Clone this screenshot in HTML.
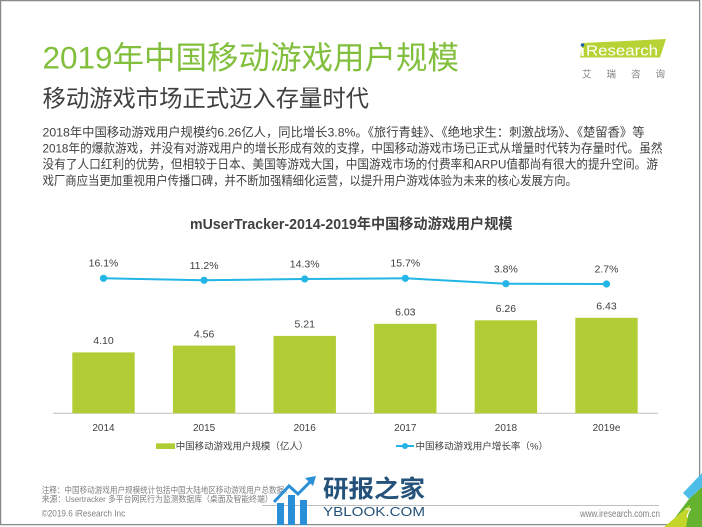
<!DOCTYPE html>
<html><head><meta charset="utf-8">
<style>
html,body{margin:0;padding:0;background:#fff;}
svg{display:block;}
</style></head>
<body>
<svg width="702" height="527" viewBox="0 0 702 527" xmlns="http://www.w3.org/2000/svg" font-family="'Liberation Sans','Noto Sans CJK SC',sans-serif">
<rect x="0" y="0" width="702" height="527" fill="#fff"/>
<rect x="0.6" y="0.6" width="699" height="524" fill="none" stroke="#8a8a8a" stroke-width="1.3"/>

<!-- Header -->
<text x="42.5" y="68.5" font-size="31.5" fill="#82bf3d" textLength="416.5" lengthAdjust="spacingAndGlyphs">2019年中国移动游戏用户规模</text>
<text x="42.5" y="106.5" font-size="23.4" fill="#404040" textLength="326.5" lengthAdjust="spacingAndGlyphs">移动游戏市场正式迈入存量时代</text>

<g font-size="12.3" fill="#404040">
<text x="42.5" y="136.4" textLength="602" lengthAdjust="spacingAndGlyphs">2018年中国移动游戏用户规模约6.26亿人，同比增长3.8%。《旅行青蛙》、《绝地求生：刺激战场》、《楚留香》等</text>
<text x="42.5" y="152.5" textLength="620" lengthAdjust="spacingAndGlyphs">2018年的爆款游戏，并没有对游戏用户的增长形成有效的支撑，中国移动游戏市场已正式从增量时代转为存量时代。虽然</text>
<text x="42.5" y="168.7" textLength="615.5" lengthAdjust="spacingAndGlyphs">没有了人口红利的优势，但相较于日本、美国等游戏大国，中国游戏市场的付费率和ARPU值都尚有很大的提升空间。游</text>
<text x="42.5" y="184.8" textLength="534.5" lengthAdjust="spacingAndGlyphs">戏厂商应当更加重视用户传播口碑，并不断加强精细化运营，以提升用户游戏体验为未来的核心发展方向。</text>
</g>

<!-- Logo -->
<polygon points="583,43 666,39 660,57.5 580,57.5" fill="#b5d334"/>
<circle cx="582.5" cy="45" r="1.8" fill="#1f5fa8"/>
<rect x="581.5" y="48" width="2.2" height="8" fill="#fff"/>
<text x="586" y="55.5" font-size="15" fill="#fff" textLength="72" lengthAdjust="spacingAndGlyphs">Research</text>
<text x="582" y="77.6" font-size="9.5" fill="#7f7f7f" textLength="83" lengthAdjust="spacing">艾瑞咨询</text>

<!-- Chart title -->
<text x="190" y="228.8" font-size="14.5" font-weight="bold" fill="#404040" textLength="322.5" lengthAdjust="spacingAndGlyphs">mUserTracker-2014-2019年中国移动游戏用户规模</text>

<!-- Axis -->
<line x1="53.3" y1="413.3" x2="658" y2="413.3" stroke="#bfbfbf" stroke-width="1"/>

<!-- Bars -->
<g fill="#b0cd35">
<rect x="72.3" y="352.4" width="62.4" height="60.9"/>
<rect x="172.9" y="345.6" width="62.4" height="67.7"/>
<rect x="273.5" y="335.9" width="62.4" height="77.4"/>
<rect x="374.1" y="323.8" width="62.4" height="89.5"/>
<rect x="474.7" y="320.3" width="62.4" height="93.0"/>
<rect x="575.3" y="317.8" width="62.4" height="95.5"/>
</g>
<g font-size="10.5" fill="#404040" text-anchor="middle">
<text x="103.5" y="344.1">4.10</text>
<text x="204.1" y="337.3">4.56</text>
<text x="304.7" y="327.6">5.21</text>
<text x="405.3" y="315.5">6.03</text>
<text x="505.9" y="312.0">6.26</text>
<text x="606.5" y="309.5">6.43</text>
</g>

<!-- Line -->
<polyline points="103.5,278.3 204.1,280.3 304.7,279 405.3,278.3 505.9,283.7 606.5,284" fill="none" stroke="#22b5e6" stroke-width="2"/>
<g fill="#22b5e6">
<circle cx="103.5" cy="278.3" r="3.6"/>
<circle cx="204.1" cy="280.3" r="3.6"/>
<circle cx="304.7" cy="279" r="3.6"/>
<circle cx="405.3" cy="278.3" r="3.6"/>
<circle cx="505.9" cy="283.7" r="3.6"/>
<circle cx="606.5" cy="284" r="3.6"/>
</g>
<g font-size="10.5" fill="#404040" text-anchor="middle">
<text x="103.5" y="266.4">16.1%</text>
<text x="204.1" y="269">11.2%</text>
<text x="304.7" y="267.7">14.3%</text>
<text x="405.3" y="266.7">15.7%</text>
<text x="505.9" y="272.4">3.8%</text>
<text x="606.5" y="272.4">2.7%</text>
</g>

<!-- Year labels -->
<g font-size="10" fill="#404040" text-anchor="middle">
<text x="103.5" y="430.9">2014</text>
<text x="204.1" y="430.9">2015</text>
<text x="304.7" y="430.9">2016</text>
<text x="405.3" y="430.9">2017</text>
<text x="505.9" y="430.9">2018</text>
<text x="606.5" y="430.9">2019e</text>
</g>

<!-- Legend -->
<rect x="156" y="443.3" width="19" height="5.7" fill="#b0cd35"/>
<text x="175.7" y="449.6" font-size="9.5" fill="#404040" textLength="132.6" lengthAdjust="spacingAndGlyphs">中国移动游戏用户规模（亿人）</text>
<line x1="396" y1="446" x2="414" y2="446" stroke="#22b5e6" stroke-width="2"/>
<circle cx="405" cy="446" r="3" fill="#22b5e6"/>
<text x="415.5" y="449.6" font-size="9.5" fill="#404040" textLength="132.5" lengthAdjust="spacingAndGlyphs">中国移动游戏用户增长率（%）</text>

<!-- Footer -->
<g font-size="8.5" fill="#808080">
<text x="41.7" y="493.2" textLength="250" lengthAdjust="spacingAndGlyphs">注释：中国移动游戏用户规模统计包括中国大陆地区移动游戏用户总数据。</text>
<text x="41.7" y="502.2" textLength="231" lengthAdjust="spacingAndGlyphs">来源：Usertracker 多平台网民行为监测数据库（桌面及智能终端）</text>
</g>
<line x1="262" y1="505.5" x2="659" y2="505.5" stroke="#bfbfbf" stroke-width="1"/>
<text x="41.7" y="516.7" font-size="9.5" fill="#808080" textLength="83.5" lengthAdjust="spacingAndGlyphs">©2019.6 iResearch Inc</text>
<text x="580" y="516.8" font-size="10" fill="#808080" textLength="80" lengthAdjust="spacingAndGlyphs">www.iresearch.com.cn</text>

<!-- Corner decoration -->
<polygon points="689,499 702,487 702,527 668,527" fill="#64b22e"/>
<polygon points="664,527 690,505 686,527" fill="#c5d62b"/>
<polygon points="683,493 702,473 702,487 689,499" fill="#4fbde9"/>
<text x="688" y="517.5" font-size="13" fill="#fff" text-anchor="middle">7</text>

<!-- Watermark -->
<g fill="#2a8fd6">
<rect x="277" y="503" width="7" height="22"/>
<rect x="288" y="495" width="7" height="30"/>
<rect x="300" y="500" width="7" height="25"/>
</g>
<polyline points="274,502 289,486 298,494 312,480" fill="none" stroke="#2a8fd6" stroke-width="3"/>
<polygon points="316,476 305,478 313,486" fill="#2a8fd6"/>
<text x="323" y="497" font-size="24" font-weight="bold" fill="#24527a" textLength="102" lengthAdjust="spacingAndGlyphs">研报之家</text>
<text x="323" y="516" font-size="13" fill="#24527a" textLength="102" lengthAdjust="spacingAndGlyphs">YBLOOK.COM</text>
</svg>
</body></html>
